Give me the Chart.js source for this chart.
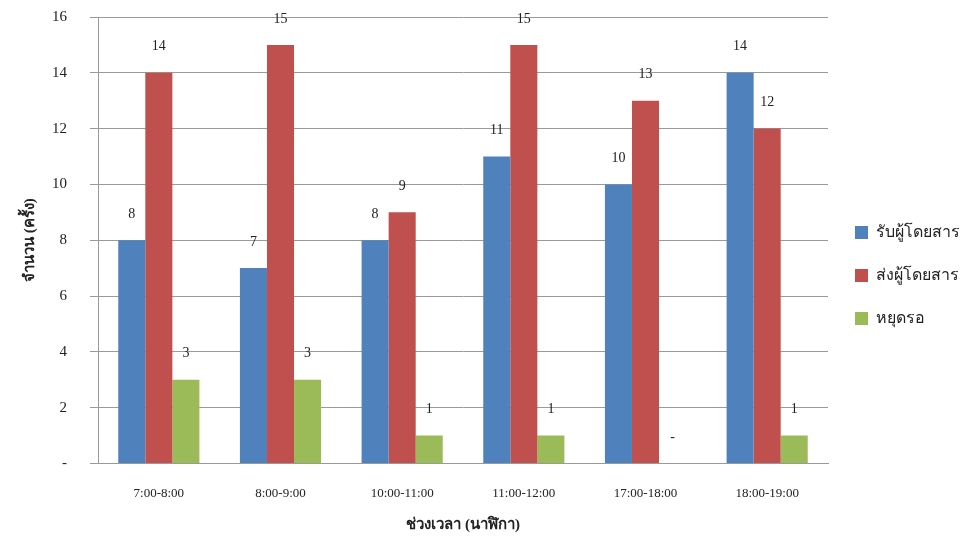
<!DOCTYPE html>
<html>
<head>
<meta charset="utf-8">
<script src="https://cdn.jsdelivr.net/npm/chart.js@4"></script>
<style>
  html, body { margin: 0; padding: 0; background: #ffffff; }
  #wrap { width: 965px; height: 540px; }
</style>
</head>
<body>
<div id="wrap"><canvas id="c" width="965" height="540"></canvas></div>
<script>
const categories = ['7:00-8:00', '8:00-9:00', '10:00-11:00', '11:00-12:00', '17:00-18:00', '18:00-19:00'];
const pickUp = [8, 7, 8, 11, 10, 14];
const dropOff = [14, 15, 9, 15, 13, 12];
const waiting = [3, 3, 1, 1, 0, 1];
const seriesNames = ['รับผู้โดยสาร', 'ส่งผู้โดยสาร', 'หยุดรอ'];
const yTicks = [0, 2, 4, 6, 8, 10, 12, 14, 16];

const serif = "'Liberation Serif', 'Times New Roman', serif";

// Value labels above each bar; zero is written as a dash
const valueLabels = {
  id: 'valueLabels',
  afterDatasetsDraw(chart) {
    const ctx = chart.ctx;
    ctx.save();
    ctx.font = '14px ' + serif;
    ctx.fillStyle = '#222';
    ctx.textAlign = 'center';
    ctx.textBaseline = 'middle';
    chart.data.datasets.forEach((ds, i) => {
      chart.getDatasetMeta(i).data.forEach((bar, j) => {
        const v = ds.data[j];
        ctx.fillText(v === 0 ? '-' : String(v), bar.x, bar.y - 26);
      });
    });
    ctx.restore();
  }
};

new Chart(document.getElementById('c'), {
  type: 'bar',
  data: {
    labels: categories,
    datasets: [
      { label: seriesNames[0], data: pickUp, backgroundColor: '#4F81BD' },
      { label: seriesNames[1], data: dropOff, backgroundColor: '#C0504D' },
      { label: seriesNames[2], data: waiting, backgroundColor: '#9BBB59' }
    ]
  },
  options: {
    responsive: false,
    animation: false,
    devicePixelRatio: 1,
    layout: { padding: { left: 0, right: -5, top: 17, bottom: 6 } },
    datasets: { bar: { categoryPercentage: 0.667, barPercentage: 1.0 } },
    plugins: {
      tooltip: { enabled: false },
      legend: {
        position: 'right',
        labels: {
          boxWidth: 13,
          boxHeight: 13,
          padding: 27,
          color: '#222',
          font: { family: serif, size: 16 }
        }
      }
    },
    scales: {
      x: {
        grid: { display: false },
        border: { display: true, color: '#9a9a9a' },
        ticks: { color: '#222', font: { family: serif, size: 13 }, padding: 14 },
        title: {
          display: true,
          text: 'ช่วงเวลา (นาฬิกา)',
          color: '#222',
          font: { family: serif, size: 15, weight: 'bold' },
          padding: { top: 1, bottom: 0 }
        }
      },
      y: {
        min: 0,
        max: 16,
        afterBuildTicks(axis) { axis.ticks = yTicks.map(v => ({ value: v })); },
        afterFit(axis) {
          axis.width = 98;
          axis.paddingTop = 0;
          axis.paddingBottom = 0;
        },
        grid: { color: '#9a9a9a', tickLength: 8 },
        border: { display: true, color: '#9a9a9a' },
        ticks: {
          color: '#222',
          font: { family: serif, size: 15 },
          padding: 23,
          callback: v => (v === 0 ? '-' : v)
        },
        title: {
          display: true,
          text: 'จำนวน (ครั้ง)',
          color: '#222',
          font: { family: serif, size: 15, weight: 'bold' },
          padding: { top: 21, bottom: 0 }
        }
      }
    }
  },
  plugins: [valueLabels]
});
</script>
</body>
</html>
